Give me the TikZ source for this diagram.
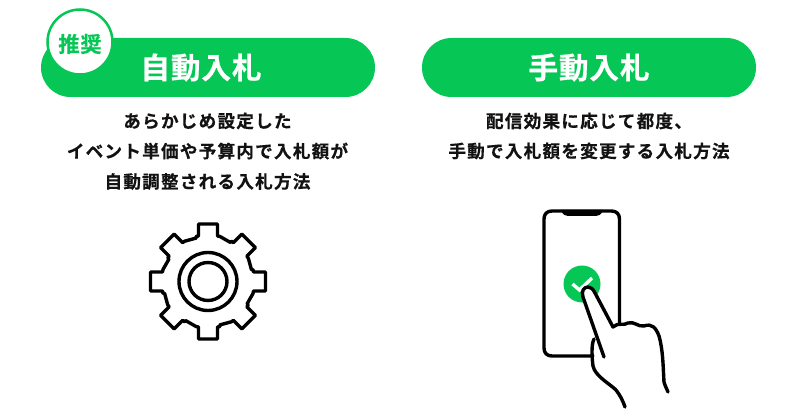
\documentclass[tikz,border=0pt]{standalone}
\usepackage{fontspec}
\newfontfamily\titlefont[LetterSpace=3,FakeBold=0.6]{Noto Sans CJK JP Bold}
\newfontfamily\bodyfont[LetterSpace=7,FakeBold=0.4]{Noto Sans CJK JP Bold}
\definecolor{pillgreen}{rgb}{0.024, 0.780, 0.333}
\definecolor{inkblack}{rgb}{0.070, 0.070, 0.070}
\newlength{\du}
\setlength{\du}{0.75pt}

\begin{document}
\begin{tikzpicture}[
  pillbox/.style={fill=pillgreen,minimum width=334\du,minimum height=59\du,rounded corners=29.5\du,inner sep=0pt},
  pilltitle/.style={text=white,font=\titlefont\fontsize{22.2}{24}\selectfont,inner sep=0pt},
  bodyline/.style={text=inkblack,font=\bodyfont\fontsize{13.2}{15}\selectfont,inner sep=0pt},
  iconline/.style={draw=black,line width=3.4\du,line join=round,line cap=round}
]
\pgftransformxscale{1.000000}
\pgftransformyscale{-1.000000}
\useasboundingbox (0\du,0\du) rectangle (800\du,417\du);
% left pill
\node[pillbox] (autopill) at (208\du,67.5\du) {};
\node[circle,draw=pillgreen,fill=white,line width=2.5\du,minimum size=65\du,inner sep=0pt] (badge) at (80\du,42\du) {};
\node[text=pillgreen,font=\titlefont\fontsize{16}{18}\selectfont,inner sep=0pt] (badgetext) at (80\du,44\du) {推奨};
\node[pilltitle] (autotitle) at (201\du,67.5\du) {自動入札};
\node[bodyline] (autoa) at (207.5\du,121\du) {あらかじめ設定した};
\node[bodyline] (autob) at (207.5\du,151\du) {イベント単価や予算内で入札額が};
\node[bodyline] (autoc) at (207.5\du,181.5\du) {自動調整される入札方法};
% right pill
\node[pillbox] (manualpill) at (589\du,67.5\du) {};
\node[pilltitle] (manualtitle) at (589\du,67.5\du) {手動入札};
\node[bodyline] (manuala) at (589\du,121\du) {配信効果に応じて都度、};
\node[bodyline] (manualb) at (589\du,151\du) {手動で入札額を変更する入札方法};
% gear
\foreach \a in {0,45,...,315} {
\draw[iconline,shift={(208\du,281.5\du)},rotate=\a] (-12\du,-45\du)--(-9.5\du,-45.5\du)--(-9.5\du,-57.5\du)--(9.5\du,-57.5\du)--(9.5\du,-45.5\du)--(12\du,-45\du)--(22.5\du,-39\du);
}
\draw[iconline] (208\du,281.5\du) circle (29\du);
\draw[iconline] (208\du,281.5\du) circle (19\du);
% phone
\draw[iconline] (593\du,356\du)--(552\du,356\du) .. controls (547\du,356\du) and (544\du,353\du) .. (544\du,348\du)--(544\du,219\du) .. controls (544\du,214\du) and (547\du,211\du) .. (552\du,211\du)--(611.5\du,211\du) .. controls (616.5\du,211\du) and (619.5\du,214\du) .. (619.5\du,219\du)--(619.5\du,323\du);
\fill[black] (561\du,210\du)--(603\du,210\du) .. controls (601\du,215\du) and (599\du,216\du) .. (596\du,216\du)--(568\du,216\du) .. controls (565\du,216\du) and (563\du,215\du) .. (561\du,210\du)--cycle;
\node[circle,fill=pillgreen,minimum size=37\du,inner sep=0pt] (tapmark) at (582\du,284\du) {};
\draw[white,line width=3.4\du] (572.5\du,284\du)--(579.5\du,290\du)--(592\du,278\du);
% hand
\draw[iconline,fill=white] (604\du,357\du)--(583\du,297\du) .. controls (581\du,291\du) and (584\du,287\du) .. (588\du,287\du) .. controls (591\du,287\du) and (593\du,289\du) .. (595\du,293\du)--(613\du,327\du) .. controls (618\du,322\du) and (624\du,326\du) .. (628\du,323\du) .. controls (634\du,321\du) and (638\du,327\du) .. (644\du,326\du) .. controls (652\du,323\du) and (656\du,328\du) .. (659\du,336\du) .. controls (663\du,350\du) and (663\du,365\du) .. (664\du,382\du) .. controls (665\du,386\du) and (667\du,389\du) .. (668\du,392\du);
\draw[iconline] (594\du,339\du) .. controls (591\du,345\du) and (592\du,358\du) .. (593\du,366\du) .. controls (595\du,376\du) and (610\du,384\du) .. (616\du,390\du) .. controls (620\du,395\du) and (623\du,401\du) .. (625\du,407\du);
\end{tikzpicture}
\end{document}
